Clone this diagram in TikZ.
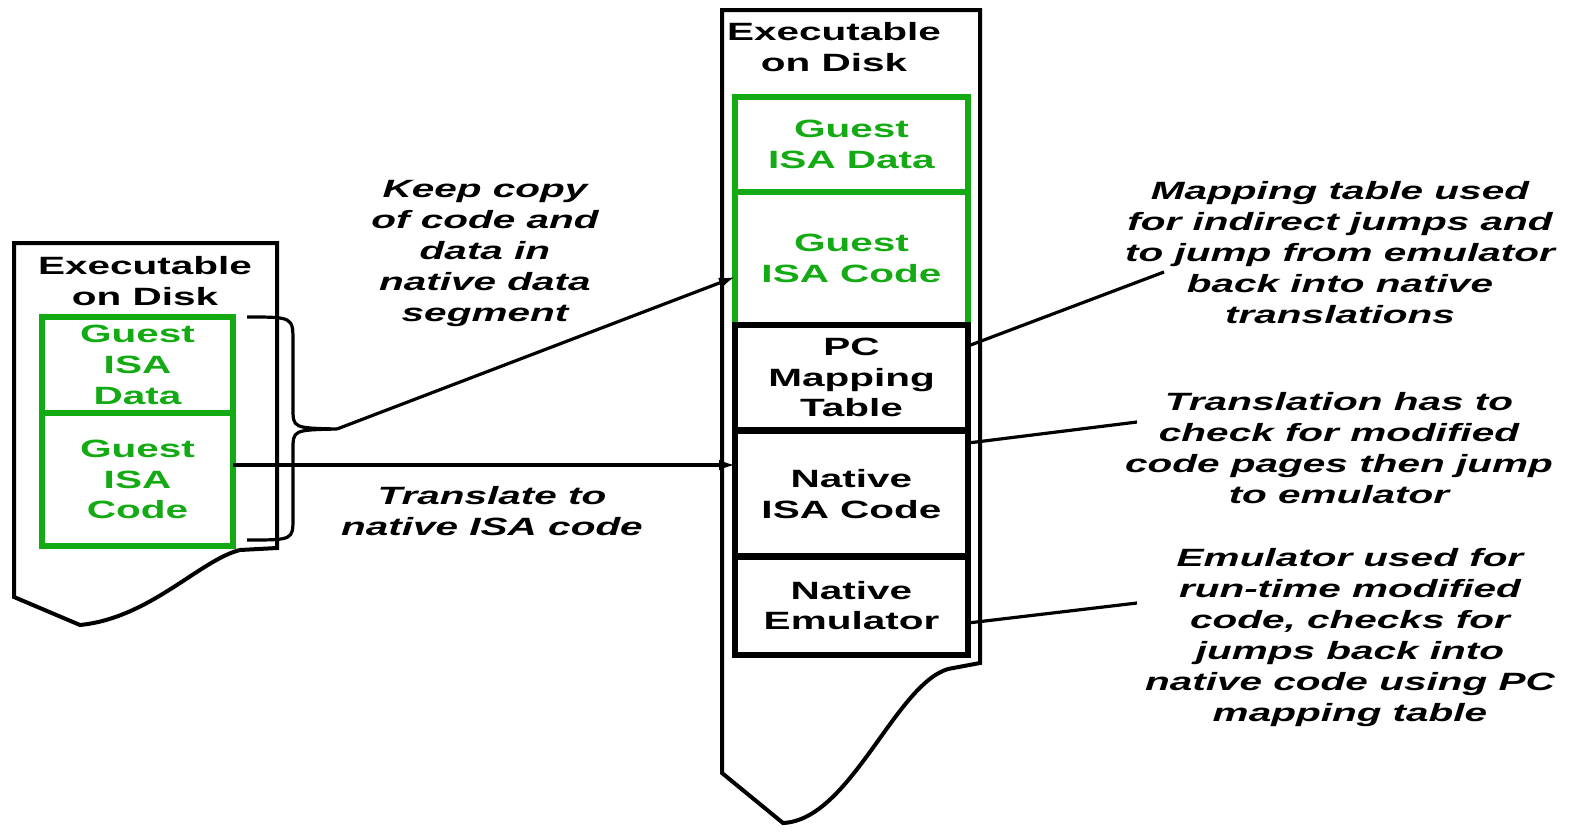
\documentclass[tikz,border=0pt]{standalone}
\usepackage{fontspec}
\setmainfont{Liberation Sans}[FakeStretch=1.62]
\usetikzlibrary{arrows.meta,calc}
\definecolor{isagreen}{RGB}{20,170,20}
\begin{document}
\begin{tikzpicture}[x=0.5pt,y=-0.5pt,
  txt/.style={font=\fontsize{12.5}{15.4}\selectfont\bfseries, align=center, inner sep=0pt},
  note/.style={font=\fontsize{12.5}{15.5}\selectfont\bfseries\itshape, align=center, inner sep=0pt},
  docline/.style={line width=2pt, line join=miter},
  segbox/.style={txt, draw, line width=2.6pt, outer sep=0pt, minimum width=116.5pt},
  guestbox/.style={txt, draw=isagreen, text=isagreen, line width=3pt, outer sep=0pt},
  wire/.style={line width=1.6pt},
  arrow/.style={wire, -{Latex[length=8pt,width=5.5pt]}}]
\useasboundingbox (0,0) rectangle (1576,831);

% ---- executable on disk (guest) ----
\draw[docline] (14,243) -- (277,243) -- (277,548) -- (240,550)
  .. controls (200,560) and (150,618) .. (80,625) -- (14,597) -- cycle;
\node[txt] (ltitle) at (145,281) {Executable\\on Disk};
\node[guestbox, minimum width=95.5pt, minimum height=48pt] (lgdata) at (137.5,365) {Guest\\ISA\\Data};
\node[guestbox, minimum width=95.5pt, minimum height=66.5pt] (lgcode) at (137.5,479.5) {Guest\\ISA\\Code};

% curly brace grouping the guest segments
\coordinate (brtip) at (337,429);
\draw[wire] (247,317) .. controls (293,317) .. (293,342) -- (293,408)
  .. controls (293,428) .. (brtip) .. controls (293,430) .. (293,450)
  -- (293,518) .. controls (293,540) .. (247,540);

% ---- executable on disk (native) ----
\draw[docline] (722,10) -- (980,10) -- (980,663) -- (948,669)
  .. controls (895,685) and (850,820) .. (783,823) -- (722,773) -- cycle;
\node[txt] (rtitle) at (834,47) {Executable\\on Disk};
\node[guestbox, minimum width=116.5pt, minimum height=47.5pt] (rgdata) at (851.5,144.5) {Guest\\ISA Data};
\node[guestbox, minimum width=116.5pt, minimum height=66.5pt] (rgcode) at (851.5,258.5) {Guest\\ISA Code};
\node[segbox, minimum height=52.5pt] (pcmap) at (851.5,377.5) {PC\\Mapping\\Table};
\node[segbox, minimum height=63pt] (nisa) at (851.5,494) {Native\\ISA Code};
\node[segbox, minimum height=49.5pt] (nemu) at (851.5,605.5) {Native\\Emulator};

% ---- transfers ----
\draw[arrow] (brtip) -- ([yshift=-9.25pt]rgcode.west);
\draw[arrow] ([yshift=7.25pt]lgcode.east) -- ([yshift=7.25pt]lgcode.east -| nisa.west);
\node[note] (kcopy) at (485,253) {Keep copy\\of code and\\data in\\native data\\segment};
\node[note] (xlate) at (492,511) {Translate to\\native ISA code};

% ---- annotations ----
\node[note] (amap) at (1340,253) {Mapping table used\\for indirect jumps and\\to jump from emulator\\back into native\\translations};
\node[note] (acheck) at (1339,448) {Translation has to\\check for modified\\code pages then jump\\to emulator};
\node[note] (aemu) at (1350,638) {Emulator used for\\run-time modified\\code, checks for\\jumps back into\\native code using PC\\mapping table};
\coordinate (amapend) at (1164,272);
\coordinate (acheckend) at (1137,422);
\coordinate (aemuend) at (1137,603);
\draw[wire] ([yshift=15.75pt]pcmap.east) -- (amapend);
\draw[wire] ([yshift=25.5pt]nisa.east) -- (acheckend);
\draw[wire] ([yshift=-8.75pt]nemu.east) -- (aemuend);
\end{tikzpicture}
\end{document}
